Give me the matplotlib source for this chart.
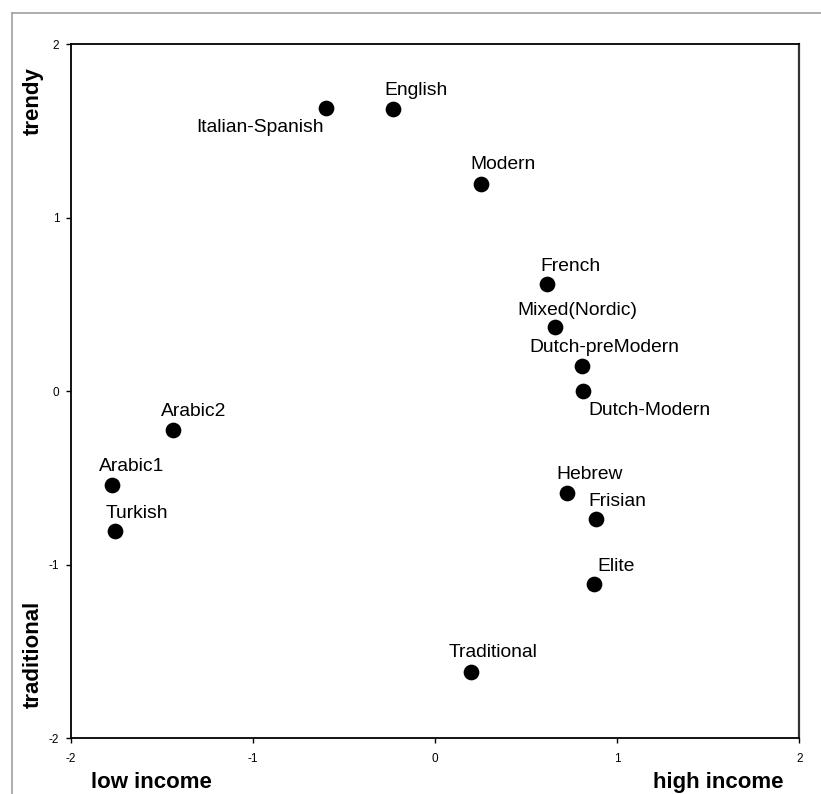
import matplotlib
matplotlib.use("Agg")
import matplotlib.pyplot as plt
from matplotlib.lines import Line2D

plt.rcParams['font.family'] = ['Liberation Sans', 'DejaVu Sans']

# name-style groups: income (x) vs trendy/traditional (y)
names = ["Italian-Spanish", "English", "Modern", "French", "Mixed(Nordic)",
         "Dutch-preModern", "Dutch-Modern", "Arabic2", "Arabic1", "Turkish",
         "Hebrew", "Frisian", "Elite", "Traditional"]
income = [-0.60, -0.23, 0.25, 0.615, 0.66, 0.805, 0.81, -1.44, -1.775, -1.757,
          0.726, 0.884, 0.871, 0.20]
trendy = [1.63, 1.627, 1.197, 0.62, 0.369, 0.146, 0.0, -0.223, -0.538, -0.803,
          -0.584, -0.738, -1.111, -1.616]
ticks = [-2, -1, 0, 1, 2]

# label placement (pixels from the dot, baseline anchored)
label_pos = {
    "Italian-Spanish": (-1.7, -23.4, "right"),
    "English": (-9, 14, "left"),
    "Modern": (-10, 14.4, "left"),
    "French": (-7, 13, "left"),
    "Mixed(Nordic)": (-38, 12.3, "left"),
    "Dutch-preModern": (-52.7, 14.3, "left"),
    "Dutch-Modern": (5.6, -23.3, "left"),
    "Arabic2": (-11.7, 14, "left"),
    "Arabic1": (-12.4, 13.7, "left"),
    "Turkish": (-9, 13, "left"),
    "Hebrew": (-11.3, 13.7, "left"),
    "Frisian": (-7.7, 13.3, "left"),
    "Elite": (3.6, 13.3, "left"),
    "Traditional": (-22.4, 14.4, "left"),
}

W, H = 821, 794
fig = plt.figure(figsize=(W / 100, H / 100), dpi=100)
ax = fig.add_axes([70.7 / W, (H - 738.3) / H, 728.6 / W, 694 / H])

ax.scatter(income, trendy, s=128, color='black', zorder=3, linewidths=0)
for n, x, y in zip(names, income, trendy):
    dx, dy, ha = label_pos[n]
    ax.annotate(n, (x, y), xytext=(dx, dy), textcoords='offset pixels',
                ha=ha, va='baseline', fontsize=13.9)

ax.set_xlim(-2, 2)
ax.set_ylim(-2, 2)
ax.set_xticks(ticks)
ax.set_yticks(ticks)
ax.set_xticklabels([str(t) for t in ticks])
ax.set_yticklabels([str(t) for t in ticks])
ax.tick_params(direction='out', length=3.8, width=1, labelsize=8.5)
ax.tick_params(axis='x', pad=6.5)
ax.tick_params(axis='y', pad=4.5)
for sp in ax.spines.values():
    sp.set_linewidth(1.3)
    sp.set_color('black')
ax.spines['right'].set_color('#333333')
ax.spines['right'].set_linewidth(1.6)

# corner labels
fig.text(33 / W, 1 - 101.5 / H, "trendy", rotation=90, ha='center', va='center',
         fontsize=16, fontweight='bold')
fig.text(33 / W, 1 - 654 / H, "traditional", rotation=90, ha='center', va='center',
         fontsize=16, fontweight='bold')
fig.text(91 / W, 1 - 788 / H, "low income", ha='left', va='baseline',
         fontsize=16, fontweight='bold')
fig.text(783 / W, 1 - 788 / H, "high income", ha='right', va='baseline',
         fontsize=16, fontweight='bold')

# grey frame at top and left
fig.add_artist(Line2D([11.5 / W, 1], [1 - 13 / H, 1 - 13 / H], color='#a0a0a0', lw=1.2))
fig.add_artist(Line2D([11.5 / W, 11.5 / W], [0, 1 - 13 / H], color='#a0a0a0', lw=1.2))

fig.savefig("out.png", dpi=100)
